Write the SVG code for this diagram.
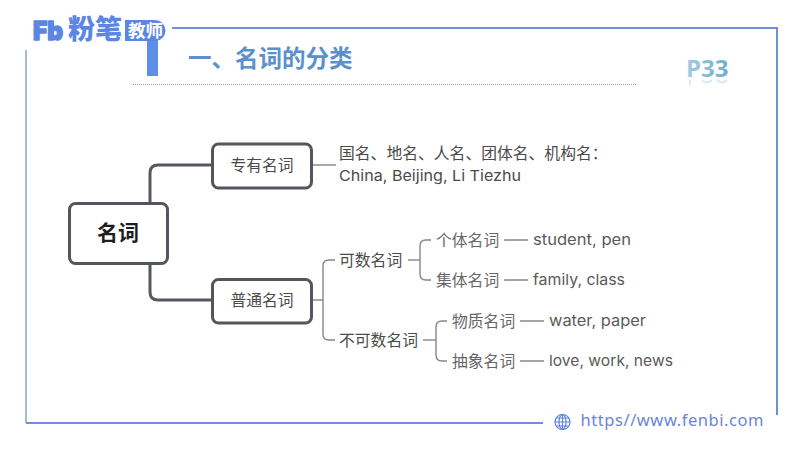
<svg xmlns="http://www.w3.org/2000/svg" width="800" height="450" viewBox="0 0 800 450">
<defs>
<linearGradient id="p33" x1="0" y1="0" x2="1" y2="0"><stop offset="0" stop-color="#a5cde2"/><stop offset="1" stop-color="#6eaccd"/></linearGradient>
<style>
text{font-family:"Noto Sans CJK SC","Noto Sans",sans-serif}
.frame{stroke:#6f8fdc;stroke-width:2;fill:none}
.frameL{stroke:#a9b9dc;stroke-width:2;fill:none}
.box{fill:#fff;stroke:#53565c;stroke-linejoin:round}
.thick{fill:none;stroke:#55585e;stroke-width:3}
.thin{fill:none;stroke:#85878a;stroke-width:1.4}
.t{font-size:15.8px;fill:#4a4a4a;dominant-baseline:central}
.en{font-family:"Inter","Noto Sans",sans-serif;font-size:15px;fill:#5a5a5a;dominant-baseline:central}
.mid{text-anchor:middle}
</style>
</defs>
<rect width="800" height="450" fill="#fff"/>
<g id="frame">
<path class="frame" d="M172 28H777V415"/>
<path class="frameL" d="M26 50V423"/>
<path class="frame" d="M26 423H543" stroke-width="1.6"/>
<rect x="147" y="38" width="11" height="38" fill="#5e8fe6"/>
<line x1="133" y1="84.500" x2="637" y2="84.500" stroke="#9a9a9a" stroke-width="1" stroke-dasharray="1 1"/>
</g>
<g id="logo">
<text x="33" y="40" font-size="26" font-weight="900" fill="#5b86e6" stroke="#5b86e6" stroke-width="1.500" stroke-linejoin="round" style="font-family:Inter,sans-serif" textLength="30" lengthAdjust="spacingAndGlyphs">Fb</text>
<text x="68" y="39" font-size="27" font-weight="900" fill="#5b86e6">粉笔</text>
<path d="M125 20H155A10.500 10.500 0 0 1 155 41H125Z" fill="#5b86e6"/>
<text x="128" y="37" font-size="17.500" font-weight="700" fill="#fff">教师</text>
</g>
<text id="title" x="188" y="66.500" font-size="23.500" font-weight="700" fill="#5b90cc">一、名词的分类</text>
<g id="page">
<text x="686" y="77" font-size="24" font-weight="700" fill="url(#p33)" style="font-family:'Open Sans',sans-serif">P33</text>
<path d="M690 80V85M702 80Q707 85 712 80M717 80Q722 85 727 80" fill="none" stroke="#dbe9f2" stroke-width="2"/>
</g>
<g id="connectors">
<path class="thick" d="M150 203V173Q150 165 158 165H212"/>
<path class="thick" d="M150 264V292Q150 300 158 300H212"/>
<path class="thin" d="M312 165H336"/>
<path class="thin" d="M312 300H323"/>
<path class="thin" d="M335 260H329Q323 260 323 266V334Q323 340 329 340H335"/>
<path class="thin" d="M408 260H420"/>
<path class="thin" d="M431 240H426Q420 240 420 246V274Q420 280 426 280H431"/>
<path class="thin" d="M423 340H436"/>
<path class="thin" d="M447 321H442Q436 321 436 327V355Q436 361 442 361H447"/>
<path class="thin" d="M504 240H528M504 280H528M520 321H544M520 361H544"/>
</g>
<g id="n-root"><rect class="box" x="69.500" y="203.500" width="98" height="60" rx="6" stroke-width="3"/><text class="t mid" x="118" y="231" font-weight="700" style="font-size:21px;fill:#1e1e1e">名词</text></g>
<g id="n-proper"><rect class="box" x="212.500" y="144" width="99" height="44" rx="6" stroke-width="3"/><text class="t mid" x="262" y="164">专有名词</text></g>
<g id="n-common"><rect class="box" x="212.500" y="279.500" width="99" height="43.500" rx="6" stroke-width="3"/><text class="t mid" x="262" y="299">普通名词</text></g>
<g id="n-proper-desc"><text class="t" x="339" y="152.500">国名、地名、人名、团体名、机构名：</text><text class="en" x="339" y="175.500" style="fill:#4a4a4a" textLength="182" lengthAdjust="spacingAndGlyphs">China, Beijing, Li Tiezhu</text></g>
<g id="n-countable"><text class="t" x="339" y="259">可数名词</text></g>
<g id="n-uncountable"><text class="t" x="339" y="339">不可数名词</text></g>
<g id="n-individual"><text class="t" x="436" y="239" style="fill:#666">个体名词</text><text class="en" x="533" y="239.500" textLength="98" lengthAdjust="spacingAndGlyphs">student, pen</text></g>
<g id="n-collective"><text class="t" x="436" y="279" style="fill:#666">集体名词</text><text class="en" x="533" y="279.500" textLength="92" lengthAdjust="spacingAndGlyphs">family, class</text></g>
<g id="n-material"><text class="t" x="452" y="320" style="fill:#666">物质名词</text><text class="en" x="549" y="320.500" textLength="97" lengthAdjust="spacingAndGlyphs">water, paper</text></g>
<g id="n-abstract"><text class="t" x="452" y="360" style="fill:#666">抽象名词</text><text class="en" x="549" y="360.500" textLength="124" lengthAdjust="spacingAndGlyphs">love, work, news</text></g>
<g id="footer">
<g fill="none" stroke="#5f82dc" stroke-width="1.200"><circle cx="562.500" cy="422" r="7.500"/><ellipse cx="562.500" cy="422" rx="3.500" ry="7.500"/><path d="M555 422H570M556 418H569M556 426H569M562.500 414.500V429.500"/></g>
<text x="580.500" y="426" font-size="16.500" fill="#6a85d8" style="font-family:'Noto Sans',sans-serif" textLength="183">https//www.fenbi.com</text>
</g>
</svg>
